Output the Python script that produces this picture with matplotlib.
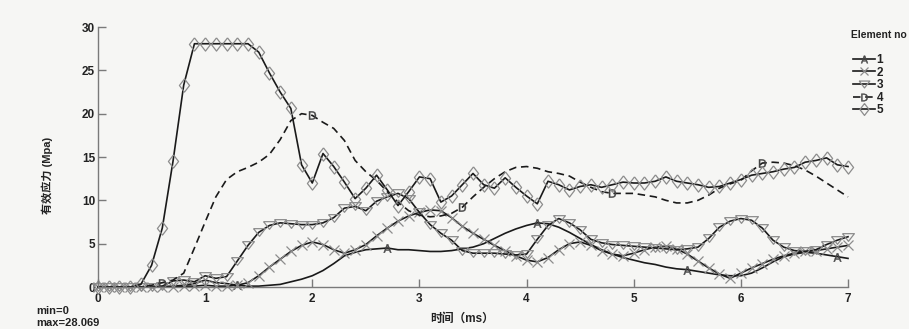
import numpy as np
import matplotlib
matplotlib.use('Agg')
import matplotlib.pyplot as plt

plt.rcParams['font.family'] = ['Liberation Sans', 'Noto Sans CJK SC']

# Tiempo (ms), muestreo cada 0.1 ms
time_ms = np.round(np.arange(0, 7.01, 0.1), 1)

elem1 = [0, 0, 0, 0, 0, 0, 0.05, 0.1, 0.2, 0.4, 0.8, 0.5, 0.4, 0.2, 0.1, 0.1,
         0.2, 0.3, 0.6, 0.9, 1.3, 1.9, 2.7, 3.6, 4.0, 4.3, 4.4, 4.5, 4.3, 4.3,
         4.2, 4.1, 4.1, 4.2, 4.4, 4.6, 5.0, 5.6, 6.2, 6.7, 7.1, 7.4, 7.3, 6.9,
         6.3, 5.6, 4.9, 4.3, 3.8, 3.4, 3.1, 2.8, 2.6, 2.3, 2.1, 2.0, 1.8, 1.6,
         1.4, 1.3, 1.3, 1.6, 2.2, 2.9, 3.5, 3.8, 4.0, 3.9, 3.7, 3.5, 3.3]
elem2 = [0, 0, 0, 0, 0, 0, 0, 0.05, 0.1, 0.1, 0.2, 0.1, 0.1, 0.2, 0.5, 1.3,
         2.3, 3.2, 4.1, 4.8, 5.2, 4.9, 4.3, 3.9, 4.3, 4.9, 5.9, 6.8, 7.6, 8.2,
         8.6, 8.9, 8.8, 8.0, 7.0, 6.2, 5.5, 4.8, 4.2, 3.6, 3.1, 2.9, 3.4, 4.3,
         5.0, 5.2, 4.8, 4.2, 3.8, 3.6, 3.9, 4.3, 4.6, 4.7, 4.4, 3.8, 3.0, 2.2,
         1.5, 1.0, 1.6, 2.2, 2.7, 3.2, 3.6, 3.9, 4.1, 4.2, 4.4, 4.6, 4.8]
elem3 = [0, 0, 0, 0, 0, 0, 0.1, 0.7, 0.8, 0.6, 1.3, 1.0, 1.2, 3.0, 4.8, 6.3,
         7.1, 7.4, 7.3, 7.2, 7.2, 7.4, 8.0, 9.1, 9.3, 8.8, 9.9, 10.4, 10.8, 10.2,
         8.6, 7.2, 6.2, 5.4, 4.2, 3.9, 3.9, 3.9, 3.8, 3.7, 3.8, 5.5, 7.1, 7.9,
         7.4, 6.6, 5.5, 5.1, 4.9, 4.8, 4.7, 4.6, 4.5, 4.4, 4.3, 4.4, 4.6, 5.6,
         6.9, 7.6, 7.9, 7.7, 6.8, 5.4, 4.6, 4.2, 4.1, 4.3, 4.9, 5.4, 5.8]
elem4 = [0, 0, 0, 0, 0, 0.2, 0.5, 0.8, 1.6, 4.5, 7.5, 10.4, 12.4, 13.3, 13.8, 14.4,
         15.3, 17.0, 19.2, 20.0, 19.8, 19.0, 18.3, 16.9, 14.6, 13.3, 12.3, 11.0, 9.8, 8.8,
         8.3, 8.1, 8.2, 8.5, 9.2, 10.4, 11.5, 12.5, 13.3, 13.8, 13.9, 13.7, 13.3, 13.1,
         12.8, 12.1, 11.5, 11.0, 10.8, 10.8, 10.8, 10.6, 10.4, 10.0, 9.7, 9.7, 10.0, 10.6,
         11.4, 11.9, 12.3, 13.4, 14.3, 14.4, 14.3, 14.0, 13.5, 12.8, 12.0, 11.2, 10.4]
elem5 = [0, 0, 0, 0, 0.3, 2.5, 6.8, 14.5, 23.3, 28.069, 28.069, 28.069, 28.069, 28.069, 28.069, 27.1,
         24.7, 22.5, 20.6, 14.1, 12.0, 15.4, 13.9, 12.1, 10.2, 11.4, 12.9, 11.2, 9.4, 11.0,
         12.7, 12.5, 9.8, 10.5, 11.8, 13.1, 11.8, 11.4, 12.6, 11.5, 10.5, 9.6, 12.2, 11.8,
         11.2, 11.6, 11.8, 11.5, 11.8, 12.1, 12.0, 12.0, 12.2, 12.7, 12.2, 12.0, 11.8, 11.5,
         11.6, 12.0, 12.4, 12.9, 13.1, 13.3, 13.6, 13.8, 14.4, 14.6, 14.9, 14.1, 13.9]

y_min = min(min(s) for s in [elem1, elem2, elem3, elem4, elem5])
y_max = max(max(s) for s in [elem1, elem2, elem3, elem4, elem5])

line_color = '#1a1a1a'
mark_color = '#8c8c8c'
axis_color = '#7a7a7a'
text_color = '#222222'
bg_color = '#f6f6f4'

diamond = [(0, 1), (0.77, 0), (0, -1), (-0.77, 0), (0, 1)]
tri_down = [(-1, 0.65), (1, 0.65), (0, -0.65), (-1, 0.65)]

fig = plt.figure(figsize=(9.09, 3.29), dpi=100, facecolor=bg_color)
ax = fig.add_axes([98 / 909, 42 / 329, 750 / 909, 260 / 329])
ax.set_facecolor('none')

ax.plot(time_ms, elem1, color=line_color, lw=1.2, marker=r'$\mathrm{A}$', markersize=6,
        markevery=(13, 14), markeredgewidth=0.3, markerfacecolor='#444444',
        markeredgecolor='#444444', label='1', clip_on=False)
ax.plot(time_ms, elem2, color=line_color, lw=1.2, marker='x', markersize=7,
        markeredgecolor=mark_color, markeredgewidth=0.9, label='2', clip_on=False)
ax.plot(time_ms, elem3, color=line_color, lw=1.2, marker=tri_down, markersize=8.5,
        markerfacecolor='none', markeredgecolor=mark_color, markeredgewidth=0.9,
        label='3', clip_on=False)
ax.plot(time_ms, elem4, color=line_color, lw=1.2, linestyle=(0, (4.5, 2.8)),
        marker=r'$\mathrm{D}$', markersize=6, markevery=(6, 14), markeredgewidth=0.3,
        markerfacecolor='#444444', markeredgecolor='#444444', label='4', clip_on=False)
ax.plot(time_ms, elem5, color=line_color, lw=1.2, marker=diamond, markersize=9.5,
        markerfacecolor='none', markeredgecolor=mark_color, markeredgewidth=0.9,
        label='5', clip_on=False)

ax.set_xlim(0, 7)
ax.set_ylim(0, 30)
ax.set_xticks(range(0, 8))
ax.set_yticks(range(0, 31, 5))
for side in ['top', 'right']:
    ax.spines[side].set_visible(False)
for side in ['left', 'bottom']:
    ax.spines[side].set_color(axis_color)
    ax.spines[side].set_linewidth(1.0)
ax.tick_params(direction='in', length=6, width=1, color=axis_color,
               labelsize=8.5, labelcolor=text_color)
ax.tick_params(axis='x', pad=4)
ax.tick_params(axis='y', pad=2)
for lab in ax.get_xticklabels() + ax.get_yticklabels():
    lab.set_fontweight('bold')

fig.text(47 / 909, 1 - 175 / 329, '有效应力 (Mpa)', rotation=90, ha='center', va='center',
         fontsize=8, fontweight='bold', color=text_color)
fig.text(462 / 909, 1 - 319 / 329, '时间（ms）', ha='center', va='center',
         fontsize=8.5, fontweight='bold', color=text_color)
fig.text(36 / 909, 1 - 311 / 329, f'min={y_min:g}', ha='left', va='center',
         fontsize=8, fontweight='bold', color=text_color)
fig.text(36 / 909, 1 - 323 / 329, f'max={y_max:g}', ha='left', va='center',
         fontsize=8, fontweight='bold', color=text_color)

fig.text(851 / 909, 1 - 35 / 329, 'Element no', ha='left', va='center',
         fontsize=7.4, fontweight='bold', color=text_color)
leg = fig.legend(loc='upper left', bbox_to_anchor=(853 / 909, 1 - 54 / 329),
                 frameon=False, fontsize=8.5,
                 handlelength=1.9, handletextpad=0.1, labelspacing=0.05,
                 numpoints=1, markerscale=0.9, borderaxespad=0, borderpad=0)
for t in leg.get_texts():
    t.set_fontweight('bold')
    t.set_color(text_color)

fig.savefig('out.png', dpi=100, facecolor=bg_color)
